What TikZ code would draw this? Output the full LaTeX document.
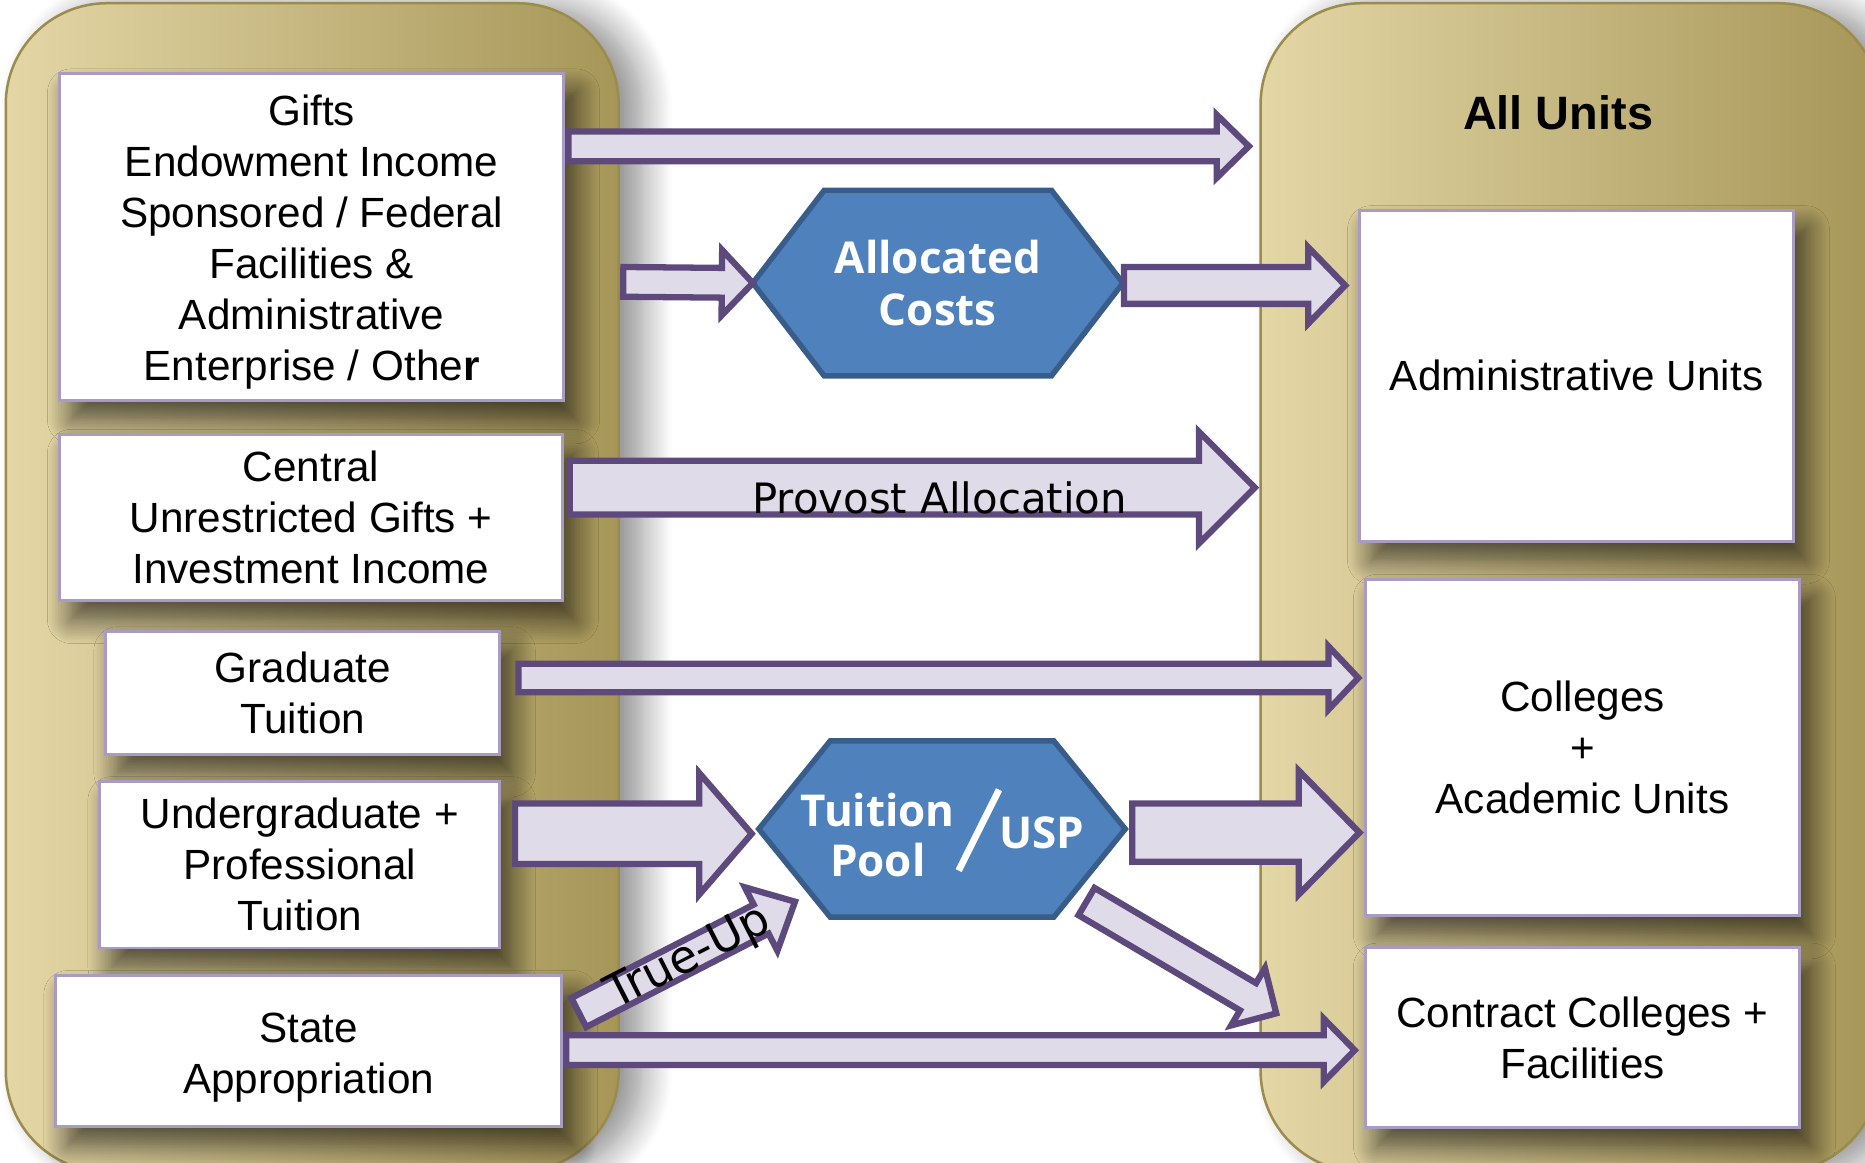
\documentclass[tikz,border=0pt]{standalone}
\usepackage{fontspec}
\setmainfont{Liberation Sans}
\newfontfamily\hexfont{Open Sans}
\newfontfamily\flowfont{DejaVu Sans}
\usetikzlibrary{calc, backgrounds, shadows.blur}
\definecolor{GoldLight}{RGB}{228,215,166}
\definecolor{GoldMid}{RGB}{210,191,128}
\definecolor{GoldDark}{RGB}{166,150,88}
\definecolor{GoldEdge}{RGB}{156,140,76}
\definecolor{FlowFill}{RGB}{224,219,232}
\definecolor{FlowLine}{RGB}{94,73,124}
\definecolor{HexBlue}{RGB}{79,129,189}
\definecolor{HexEdge}{RGB}{56,93,138}
\definecolor{BoxEdge}{RGB}{168,156,196}

\tikzset{
  panel/.style={rectangle, rounded corners=0.85cm, draw=GoldEdge, line width=0.6pt,
    left color=GoldLight, middle color=GoldMid, right color=GoldDark,
    blur shadow={shadow xshift=0.2cm, shadow yshift=-0.02cm, shadow blur radius=0.25cm,
      shadow blur steps=16, shadow opacity=45}},
  fundbox/.style={rectangle, draw=BoxEdge, line width=0.7pt, fill=white, align=center, inner sep=0pt,
    font=\fontsize{10.1}{12.2}\selectfont,
    blur shadow={shadow xshift=0.1cm, shadow yshift=-0.16cm, shadow blur radius=0.2cm,
      shadow blur steps=16, shadow opacity=65}},
  hexbox/.style={rectangle, inner sep=0pt, outer sep=0pt, text=white, align=center,
    font=\hexfont\bfseries\fontsize{10.5}{12.5}\selectfont},
  hexline/.style={draw=HexEdge, line width=1.3pt, fill=HexBlue, line join=miter},
  hextext/.style={text=white, align=center, inner sep=0pt, font=\hexfont\bfseries\fontsize{10.5}{12}\selectfont},
  flow/.style n args={3}{draw=FlowLine, fill=FlowFill, line width=1.5pt, line join=miter,
    to path={($(\tikztostart)!#1!90:(\tikztotarget)$)
      -- ($(\tikztotarget)!#3!(\tikztostart)!#1!90:(\tikztotarget)$)
      -- ($(\tikztotarget)!#3!(\tikztostart)!#2!90:(\tikztotarget)$)
      -- (\tikztotarget)
      -- ($(\tikztotarget)!#3!(\tikztostart)!#2!-90:(\tikztotarget)$)
      -- ($(\tikztotarget)!#3!(\tikztostart)!#1!-90:(\tikztotarget)$)
      -- ($(\tikztostart)!#1!-90:(\tikztotarget)$) -- cycle}}
}

\begin{document}
\begin{tikzpicture}[x=0.01cm, y=-0.01cm]
    \useasboundingbox (0,0) rectangle (1568,977);

    % the two columns
    \node[panel, minimum width=5.15cm, minimum height=9.82cm] (sources) at (262.5,494) {};
    \node[panel, minimum width=5.2cm, minimum height=9.82cm] (units) at (1320,494) {};
    \node[font=\bfseries\fontsize{11.2}{13}\selectfont] (allunits) at (1310,95) {All Units};

    % revenue sources
    \node[fundbox, minimum width=4.24cm, minimum height=2.75cm] (gifts) at (262,199.5)
        {\rule{0pt}{9.6pt}Gifts\\Endowment Income\\Sponsored / Federal\\Facilities \&\\Administrative\\Enterprise / Othe\textbf{r}};
    \node[fundbox, minimum width=4.23cm, minimum height=1.40cm] (central) at (261.5,435)
        {Central\\Unrestricted Gifts +\\Investment Income};
    \node[fundbox, minimum width=3.31cm, minimum height=1.03cm] (grad) at (254.5,582.5) {Graduate\\Tuition};
    \node[fundbox, minimum width=3.36cm, minimum height=1.40cm] (ugrad) at (252,727)
        {Undergraduate +\\Professional\\Tuition};
    \node[fundbox, minimum width=4.25cm, minimum height=1.27cm] (state) at (259.5,883.5)
        {\rule{0pt}{10.1pt}State\\Appropriation};

    % units
    \node[fundbox, minimum width=3.65cm, minimum height=2.78cm] (admin) at (1325.5,316) {Administrative Units};
    \node[fundbox, minimum width=3.65cm, minimum height=2.83cm] (colleges) at (1330.5,628.5)
        {Colleges\\+\\Academic Units};
    \node[fundbox, minimum width=3.65cm, minimum height=1.51cm] (contract) at (1330.5,872.5)
        {Contract Colleges +\\Facilities};

    % pools
    \node[hexbox, minimum width=3.11cm, minimum height=1.56cm] (alloc) at (788.5,238) {Allocated\\Costs};
    \node[hexbox, minimum width=3.08cm, minimum height=1.48cm] (pool) at (792,697) {};
    \begin{pgfonlayer}{background}
      \foreach \hx in {alloc, pool}
        \draw[hexline] (\hx.west) -- ([xshift=0.6cm]\hx.north west) -- ([xshift=-0.6cm]\hx.north east)
          -- (\hx.east) -- ([xshift=-0.6cm]\hx.south east) -- ([xshift=0.6cm]\hx.south west) -- cycle;
    \end{pgfonlayer}
    \node[hextext] (pooltext) at (738,702) {Tuition\\Pool};
    \node[hextext] (usp) at (876,700) {USP};
    \draw[white, line width=1.6pt] (806,732) -- (840,664);

    % flow ends
    \coordinate (gifts-out) at (478,123);     \coordinate (units-top) at (1050,123);
    \coordinate (alloc-feed) at (524,237);
    \coordinate (alloc-out) at (945,240);     \coordinate (admin-in) at (1131,240);
    \coordinate (central-out) at (479,410);   \coordinate (provost-in) at (1055,410);
    \coordinate (grad-out) at (436,570);      \coordinate (grad-in) at (1142,570);
    \coordinate (ugrad-out) at (433,701);     \coordinate (pool-in) at (632,701);
    \coordinate (pool-out) at (952,700);      \coordinate (colleges-in) at (1143,700);
    \coordinate (pool-down) at (913.5,758);   \coordinate (contract-in) at (1073,852);
    \coordinate (trueup-out) at (486.6,851.3); \coordinate (trueup-in) at (668.4,758.1);
    \coordinate (state-out) at (476,883);     \coordinate (state-in) at (1139,883);

    \draw[flow={0.125cm}{0.265cm}{0.27cm}] (gifts-out) to (units-top);
    \draw[flow={0.125cm}{0.275cm}{0.26cm}] (alloc-feed) to (alloc.west);
    \draw[flow={0.155cm}{0.32cm}{0.31cm}] (alloc-out) to (admin-in);
    \draw[flow={0.225cm}{0.47cm}{0.47cm}] (central-out) to (provost-in);
    \draw[flow={0.12cm}{0.265cm}{0.25cm}] (grad-out) to (grad-in);
    \draw[flow={0.255cm}{0.51cm}{0.44cm}] (ugrad-out) to (pool-in);
    \draw[flow={0.245cm}{0.52cm}{0.51cm}] (pool-out) to (colleges-in);
    \draw[flow={0.133cm}{0.28cm}{0.275cm}] (pool-down) to (contract-in);
    \draw[flow={0.137cm}{0.30cm}{0.32cm}] (trueup-out) to (trueup-in);
    \draw[flow={0.125cm}{0.265cm}{0.26cm}] (state-out) to (state-in);

    \node[font=\flowfont\fontsize{10}{12}\selectfont, anchor=base] (provost) at (790,432) {Provost Allocation};
    \node[font=\flowfont\fontsize{11}{13}\selectfont, rotate=27.1] (trueup) at (579,806) {True-Up};
\end{tikzpicture}
\end{document}
